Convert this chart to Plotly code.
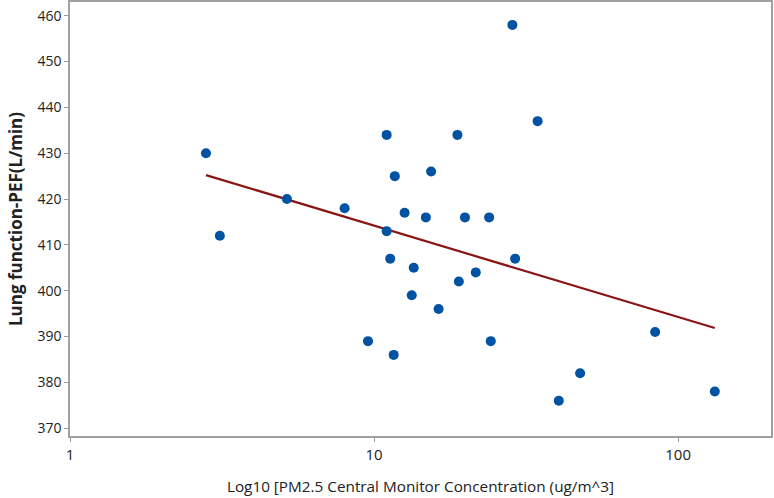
import numpy as np
import plotly.graph_objects as go

pm25 = [2.8, 3.11, 5.17, 8.0, 11.0, 11.0, 11.7, 12.6, 14.8, 15.4, 18.8, 19.9, 23.9, 28.5, 34.5,
        11.3, 13.5, 13.3, 16.3, 19.0, 21.6, 29.1, 9.55, 11.6, 24.2, 84.0, 47.6, 40.5, 132.0]
pef = [430, 412, 420, 418, 434, 413, 425, 417, 416, 426, 434, 416, 416, 458, 437,
       407, 405, 399, 396, 402, 404, 407, 389, 386, 389, 391, 382, 376, 378]

x_ticks = [1, 10, 100]
y_ticks = [370, 380, 390, 400, 410, 420, 430, 440, 450, 460]

# least-squares fit of PEF on log10(PM2.5)
lx = np.log10(pm25)
slope, intercept = np.polyfit(lx, pef, 1)
fit_x = np.array([min(pm25), max(pm25)])
fit_y = intercept + slope * np.log10(fit_x)

fig = go.Figure()
fig.add_trace(go.Scatter(x=fit_x, y=fit_y, mode="lines",
                         line=dict(color="#8B1414", width=2.2), showlegend=False))
fig.add_trace(go.Scatter(x=pm25, y=pef, mode="markers",
                         marker=dict(color="#0052A3", size=10, line=dict(width=0)),
                         showlegend=False))

font_fam = "Open Sans, Noto Sans, sans-serif"
fig.update_layout(
    width=774, height=498,
    margin=dict(l=70, r=3, t=2, b=62),
    paper_bgcolor="white", plot_bgcolor="white",
    font=dict(family=font_fam, color="#222222"),
    xaxis=dict(type="log", range=[0, np.log10(202)], tickvals=x_ticks,
               ticktext=[str(v) for v in x_ticks], automargin=False,
               ticks="outside", ticklen=4, tickcolor="#999999",
               showline=True, linecolor="#A0A0A0", linewidth=1.5, mirror=True,
               showgrid=False, zeroline=False,
               tickfont=dict(size=15, color="#222222"),
               title=dict(text="Log10 [PM2.5 Central Monitor Concentration (ug/m^3]",
                          font=dict(size=15.3, color="#222222"), standoff=19)),
    yaxis=dict(range=[368.3, 463], tickvals=y_ticks, automargin=False,
               ticks="outside", ticklen=4, tickcolor="#999999",
               showline=True, linecolor="#A0A0A0", linewidth=1.5, mirror=True,
               showgrid=False, zeroline=False,
               tickfont=dict(size=14, color="#222222"),
               title=dict(text="<b>Lung function-PEF(L/min)</b>",
                          font=dict(size=17, color="#222222"), standoff=10)),
)

fig.write_html("out.html", config={"displayModeBar": False},
               post_script="document.body.style.margin='0';document.body.style.overflow='hidden';")
